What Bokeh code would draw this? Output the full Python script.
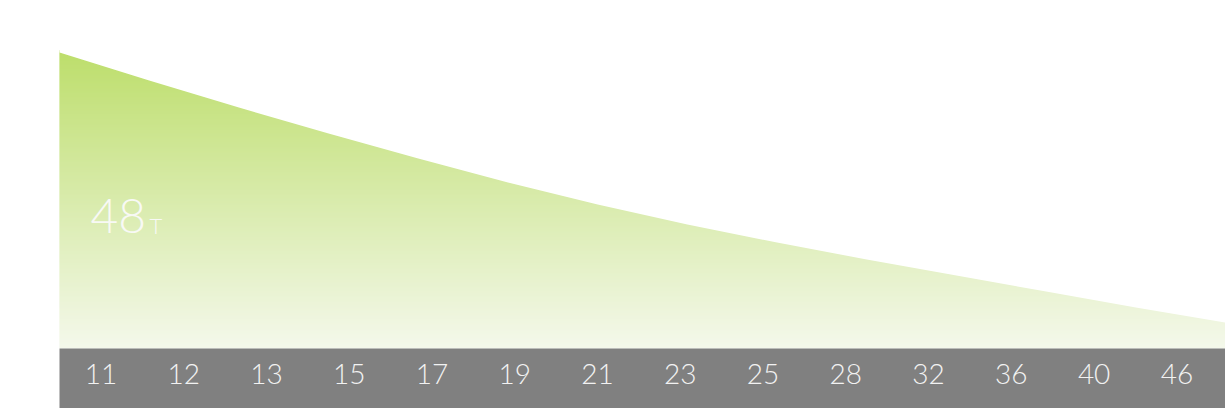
import numpy as np
from bokeh.plotting import figure
from bokeh.models import Range1d, ColumnDataSource
from bokeh.core.properties import value
from bokeh.embed import file_html
from bokeh.resources import INLINE

# ---- data ----
cogs = ["11", "12", "13", "15", "17", "19", "21", "23", "25", "28", "32", "36", "40", "46"]
curve_values = [296, 268, 241, 215, 190, 166, 144, 124, 106, 89, 73, 57, 41, 26]
chainring = "48"
chainring_unit = "T"

# ---- layout constants ----
W, H = 1225, 408
unit = 1166 / 14.0            # px per cell
label_spread = 82.77 / unit   # labels are spread slightly tighter than the cells
n = len(cogs)
band_depth = 60
top_val = 348

p = figure(width=W, height=H, output_backend="svg", toolbar_location=None,
           x_range=Range1d(-59 / unit, n), y_range=Range1d(-band_depth, top_val),
           x_axis_location=None, y_axis_location=None,
           min_border=0, min_border_left=0, min_border_right=0,
           min_border_top=0, min_border_bottom=0)
p.outline_line_color = None
p.grid.visible = False
p.background_fill_color = "white"
p.border_fill_color = "white"

# gradient strips under the curve
vmax = max(curve_values)
levels = np.arange(0, vmax + 2, 1.0)
c_top = np.array([189, 222, 108])
c_bot = np.array([244, 248, 235])
cols = []
for lv in levels:
    t = min(lv / vmax, 1.0)
    c = c_bot + (c_top - c_bot) * t
    cols.append("#%02x%02x%02x" % tuple(int(round(v)) for v in c))
grad = ColumnDataSource(dict(left=[0] * len(levels), right=[n + 1] * len(levels),
                             bottom=levels, top=levels + 1.6, color=cols))
p.quad(left="left", right="right", bottom="bottom", top="top", color="color",
       line_color=None, source=grad)

# white mask above the curve
curve_x = [i * n / (n - 1) for i in range(n)]
p.varea(x=curve_x + [n + 1], y1=curve_values + [curve_values[-1]],
        y2=[top_val + 10] * (n + 1), fill_color="white")

# gray band with cog labels
p.quad(left=[0], right=[n + 1], bottom=[-band_depth - 10], top=[0], fill_color="#808080", line_color=None)
label_x = [(j + 0.5) * label_spread for j in range(n)]
p.text(x=label_x, y=[-25.5] * n, text=cogs, text_align="center", text_baseline="alphabetic",
       text_font=value("Lato Light"), text_font_size="28px", text_color="#f2f2f2")

# 48T label
p.text(x=[31 / unit], y=[133], text=[chainring], text_align="left", text_baseline="alphabetic",
       text_font=value("Lato Light"), text_font_size="48px", text_color="#f8f9f5")
p.text(x=[90 / unit], y=[123.5], text=[chainring_unit], text_align="left", text_baseline="alphabetic",
       text_font=value("Lato Light"), text_font_size="22px", text_color="#f8f9f5")

open("out.html", "w").write(file_html(p, INLINE))
